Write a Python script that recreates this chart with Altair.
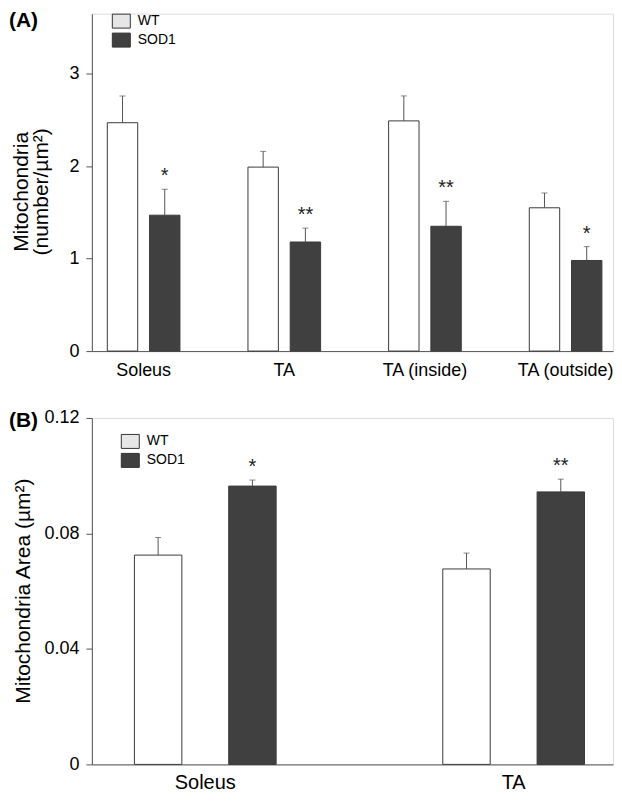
import altair as alt
import pandas as pd

groups = ["WT", "SOD1"]

# Panel A: mitochondria number per µm²
muscles_a = ["Soleus", "TA", "TA (inside)", "TA (outside)"]
wt_a = [2.47, 1.99, 2.49, 1.55]
wt_a_err = [0.29, 0.17, 0.27, 0.16]
sod_a = [1.47, 1.18, 1.35, 0.98]
sod_a_err = [0.28, 0.15, 0.27, 0.15]
sig_a = ["*", "**", "**", "*"]
ticks_a = [0, 1, 2, 3]

# Panel B: mitochondria area (µm²)
muscles_b = ["Soleus", "TA"]
wt_b = [0.0725, 0.0677]
wt_b_err = [0.0061, 0.0055]
sod_b = [0.0964, 0.0944]
sod_b_err = [0.0021, 0.0044]
sig_b = ["*", "**"]
ticks_b = [0, 0.04, 0.08, 0.12]

FONT = "Liberation Sans"
DARK = "#404040"
LINE = "#555555"


def make_df(cats, wt, wt_err, sod, sod_err, sig):
    rows = []
    for i, c in enumerate(cats):
        rows.append({"muscle": c, "group": "WT", "value": wt[i], "top": wt[i] + wt_err[i], "sig": ""})
        rows.append({"muscle": c, "group": "SOD1", "value": sod[i], "top": sod[i] + sod_err[i], "sig": sig[i]})
    return pd.DataFrame(rows)


def panel(df, cats, ymax, yticks, yfmt, width, height, pi, po, align, opi, opo, ytitle,
          title_size, title_lh, title_x, title_y, xlab_size, xlab_pad, leg_x, leg_y, tag, tag_y):
    x = alt.X("muscle:N", sort=cats,
              scale=alt.Scale(paddingInner=pi, paddingOuter=po, align=align),
              axis=alt.Axis(title=None, labelAngle=0, ticks=False, labelPadding=xlab_pad,
                            labelFontSize=xlab_size, labelColor="black", domainColor=LINE,
                            labelFont=FONT))
    xo = alt.XOffset("group:N", sort=groups,
                     scale=alt.Scale(paddingInner=opi, paddingOuter=opo))
    yaxis = alt.Axis(values=yticks, format=yfmt, title=ytitle, grid=False,
                     tickSize=6, tickColor=LINE, domainColor=LINE,
                     labelFontSize=18, labelPadding=7, labelColor="black", labelFont=FONT,
                     titleFontSize=title_size, titleFontWeight="normal", titleColor="black",
                     titleFont=FONT, titleAngle=270, titleBaseline="bottom", titleAlign="center",
                     titleX=title_x, titleY=title_y, titleLineHeight=title_lh)
    yscale = alt.Scale(domain=[0, ymax], nice=False, zero=True)
    base = alt.Chart(df)

    legend = alt.Legend(title=None, orient="none", legendX=leg_x, legendY=leg_y,
                        symbolType="M-1.286,-1H1.286V1H-1.286Z", symbolSize=196,
                        symbolOpacity=1, symbolStrokeColor="#333333",
                        symbolStrokeWidth=1, labelFontSize=14, labelOffset=9,
                        rowPadding=0, padding=0, labelFont=FONT, labelColor="black")
    bars = base.mark_bar(stroke="#3a3a3a", strokeWidth=1).encode(
        x=x, xOffset=xo,
        y=alt.Y("value:Q", scale=yscale, axis=yaxis),
        fill=alt.condition(
            "datum.group == 'WT'",
            alt.value("white"),
            alt.Fill("group:N", scale=alt.Scale(domain=groups, range=["#e6e6e6", DARK]),
                     legend=legend),
        ),
    )
    rule = base.mark_rule(color=LINE, strokeWidth=1).encode(
        x=x, xOffset=xo,
        y=alt.Y("value:Q", scale=yscale, axis=yaxis), y2="top:Q")
    cap = base.mark_tick(color=LINE, size=6, thickness=1, orient="horizontal").encode(
        x=x, xOffset=xo, y=alt.Y("top:Q", scale=yscale, axis=yaxis))
    stars = base.mark_text(fontSize=20, baseline="alphabetic", dy=-7, font=FONT, color="#222").encode(
        x=x, xOffset=xo, y=alt.Y("top:Q", scale=yscale, axis=yaxis), text="sig:N")
    label = alt.Chart(pd.DataFrame({"t": [tag]})).mark_text(
        fontSize=21, fontWeight="bold", align="left", baseline="top", font=FONT, color="black"
    ).encode(x=alt.value(-83), y=alt.value(tag_y), text="t:N")

    return alt.layer(bars, rule, cap, stars, label).properties(width=width, height=height)


df_a = make_df(muscles_a, wt_a, wt_a_err, sod_a, sod_a_err, sig_a)
df_b = make_df(muscles_b, wt_b, wt_b_err, sod_b, sod_b_err, sig_b)

chart_a = panel(df_a, muscles_a, 3.65, ticks_a, "d", 522, 338, 0.45, 0.0775, 0.6, 0.28, 0.056,
                ["Mitochondria", "(number/µm²)"], 21, 20, -60, 178, 18, 10, 22, 0, "(A)", -4)
chart_b = panel(df_b, muscles_b, 0.12, ticks_b, ".2~f", 522, 347, 0.5, 0.095, 0.62, 0.497, 0.066,
                "Mitochondria Area (µm²)", 21, 22, -58, 173, 20, 8, 31, 16, "(B)", -8)

chart = alt.vconcat(chart_a, chart_b, spacing=28).resolve_scale(
    fill="independent", xOffset="independent", x="independent"
).resolve_legend(
    fill="independent"
).properties(padding=0).configure_view(
    stroke="#4d4d4d", strokeWidth=1
).configure(font=FONT, background="white")

chart.save("out.html", embed_options={"renderer": "svg", "actions": False})
